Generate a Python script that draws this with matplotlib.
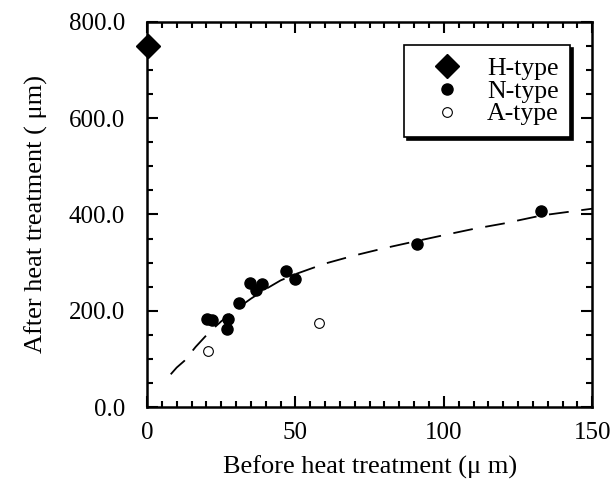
import matplotlib
matplotlib.use("Agg")
from matplotlib import pyplot as plt
from matplotlib.ticker import MultipleLocator, FormatStrFormatter

plt.rcParams['font.family'] = ['Liberation Serif', 'DejaVu Serif']

# H-type
h_x = [0.5]
h_y = [750]

# N-type
n_x = [20.2, 21.9, 27.2, 27.0, 30.9, 34.7, 38.6, 36.7, 47.0, 49.9, 91.1, 132.7]
n_y = [183, 181, 182, 162, 217, 258, 255, 243, 283, 265, 338, 407]

# A-type
a_x = [20.4, 58.1]
a_y = [116, 175]

# dashed trend curve
fit_x = [8, 10, 12.6, 16.4, 20.9, 25, 30, 35, 40, 45, 50, 55, 60, 70, 80, 91, 100, 110, 120, 133, 150]
fit_y = [68, 82, 96, 125, 155, 178, 203, 225, 245, 263, 276, 287, 298, 315, 330, 345, 357, 370, 381, 398, 412]

fig = plt.figure(figsize=(6.15, 4.97), dpi=100)
ax = fig.add_axes([0.239, 0.181, 0.724, 0.775])

ax.plot(fit_x, fit_y, color='black', linestyle=(0, (11, 7)), linewidth=1.3)
h, = ax.plot(h_x, h_y, 'D', color='black', markersize=12, clip_on=False, label='H-type')
n, = ax.plot(n_x, n_y, 'o', color='black', markersize=8, label='N-type')
a, = ax.plot(a_x, a_y, 'o', markerfacecolor='white', markeredgecolor='black',
             markeredgewidth=0.8, markersize=7, label='A-type')

ax.set_xlim(0, 150)
ax.set_ylim(0, 800)
ax.xaxis.set_major_locator(MultipleLocator(50))
ax.xaxis.set_minor_locator(MultipleLocator(5))
ax.yaxis.set_major_locator(MultipleLocator(200))
ax.yaxis.set_minor_locator(MultipleLocator(50))
ax.yaxis.set_major_formatter(FormatStrFormatter('%.1f'))
ax.tick_params(which='both', direction='in', top=True, right=True, labelsize=18, width=1.5)
ax.tick_params(which='major', length=8)
ax.tick_params(which='minor', length=4)
ax.tick_params(axis='x', which='major', pad=11)
ax.tick_params(axis='y', which='major', pad=16)
for s in ax.spines.values():
    s.set_linewidth(1.8)

ax.set_xlabel('Before heat treatment (\u03bc m)', fontsize=19, labelpad=8)
ax.set_ylabel('After heat treatment ( \u03bcm)', fontsize=19, labelpad=15)

leg = ax.legend(handles=[h, n, a], loc='upper right', bbox_to_anchor=(0.951, 0.94),
                borderaxespad=0, fontsize=18.5, fancybox=False,
                shadow={'color': 'black', 'alpha': 1},
                edgecolor='black', framealpha=1, handletextpad=0.3,
                labelspacing=0.0, borderpad=0.45, markerscale=1, handlelength=2.5)
leg.get_frame().set_linewidth(1.2)

plt.savefig('out.png', dpi=100)
